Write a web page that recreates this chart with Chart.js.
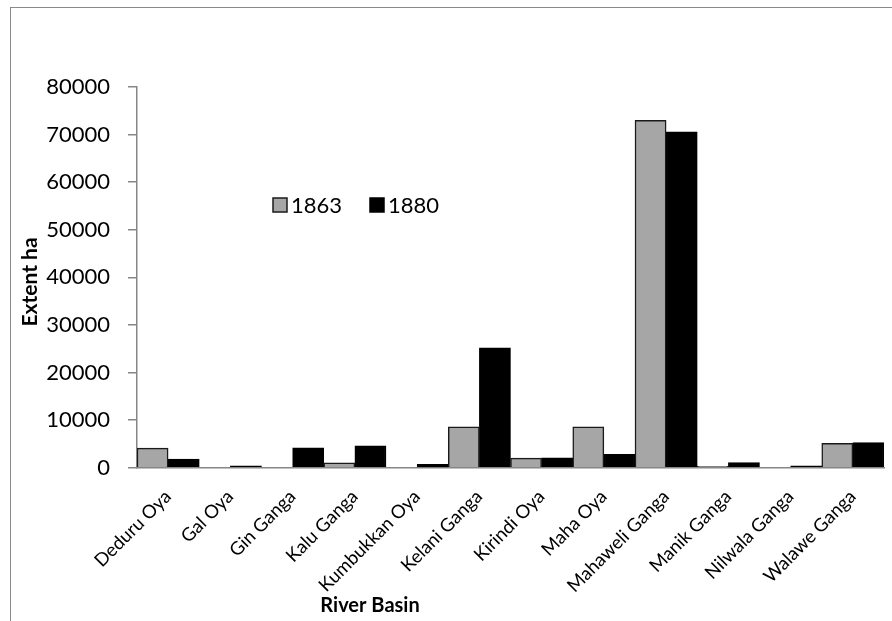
<!DOCTYPE html>
<html>
<head>
<meta charset="utf-8">
<script src="https://cdn.jsdelivr.net/npm/chart.js@4.4.1/dist/chart.umd.min.js"></script>
<style>
  html, body { margin: 0; padding: 0; background: #fff; }
  #wrap { position: relative; width: 892px; height: 621px; overflow: hidden; }
  #frame { position: absolute; left: 10px; top: 7px; width: 1000px; height: 1000px;
           border: 1px solid #8a8a8a; box-sizing: border-box; }
  canvas { position: absolute; left: 0; top: 0; }
</style>
</head>
<body>
<div id="wrap">
  <div id="frame"></div>
  <canvas id="c" width="892" height="621"></canvas>
</div>
<script>
// River basins and mapped extent (ha) for the two survey years
const categories = ['Deduru Oya', 'Gal Oya', 'Gin Ganga', 'Kalu Ganga', 'Kumbukkan Oya', 'Kelani Ganga',
                    'Kirindi Oya', 'Maha Oya', 'Mahaweli Ganga', 'Manik Ganga', 'Nilwala Ganga', 'Walawe Ganga'];
const seriesLabels = ['1863', '1880'];
const values1863 = [4100, 0, 0, 1000, 0, 8600, 2000, 8600, 73000, 300, 0, 5100];
const values1880 = [1800, 400, 4200, 4600, 700, 25200, 2100, 2800, 70600, 1100, 400, 5300];
const yTicks = [0, 10000, 20000, 30000, 40000, 50000, 60000, 70000, 80000];
const yTitle = 'Extent ha';
const xTitle = 'River Basin';

const FONT = 'Lato, "Open Sans", sans-serif';
const axisGray = '#868686';

// Axis titles and the in-plot legend
const decorations = {
  id: 'decorations',
  afterDraw(chart) {
    const ctx = chart.ctx;
    ctx.save();
    ctx.fillStyle = '#000';
    ctx.font = 'bold 20px ' + FONT;
    ctx.textAlign = 'center';
    ctx.textBaseline = 'middle';
    ctx.fillText(xTitle, 370, 606);
    ctx.font = 'bold 21px ' + FONT;
    ctx.translate(30, 282);
    ctx.rotate(-Math.PI / 2);
    ctx.fillText(yTitle, 0, 0);
    ctx.restore();

    ctx.save();
    const items = [{ x: 273, ds: chart.data.datasets[0] }, { x: 370, ds: chart.data.datasets[1] }];
    ctx.font = '22px ' + FONT;
    ctx.textBaseline = 'middle';
    ctx.textAlign = 'left';
    items.forEach(it => {
      ctx.fillStyle = it.ds.backgroundColor;
      ctx.fillRect(it.x, 198, 14, 14);
      ctx.lineWidth = 1.5;
      ctx.strokeStyle = it.ds.borderColor;
      ctx.strokeRect(it.x, 198, 14, 14);
      ctx.fillStyle = '#000';
      ctx.fillText(it.ds.label, it.x + 18, 206);
    });
    ctx.restore();
  }
};

new Chart(document.getElementById('c'), {
  type: 'bar',
  data: {
    labels: categories,
    datasets: [
      { label: seriesLabels[0], data: values1863, backgroundColor: '#a6a6a6', borderColor: '#1a1a1a',
        borderWidth: 1.5, categoryPercentage: 1, barPercentage: 1 },
      { label: seriesLabels[1], data: values1880, backgroundColor: '#000000', borderColor: '#000000',
        borderWidth: 1.5, categoryPercentage: 1, barPercentage: 1 }
    ]
  },
  options: {
    responsive: false,
    animation: false,
    devicePixelRatio: 1,
    layout: { padding: { left: 0, top: 87, right: 8, bottom: 0 } },
    plugins: { legend: { display: false }, tooltip: { enabled: false } },
    scales: {
      x: {
        offset: true,
        grid: { display: false, drawTicks: false },
        border: { color: axisGray, width: 1.5 },
        ticks: { color: '#000', font: { family: FONT, size: 18.5 }, minRotation: 45, maxRotation: 45,
                 padding: 18, autoSkip: false },
        afterFit(s) { s.height = 153.3; s.paddingLeft = 0; s.paddingRight = 0; }
      },
      y: {
        min: yTicks[0],
        max: yTicks[yTicks.length - 1],
        afterBuildTicks(s) { s.ticks = yTicks.map(v => ({ value: v })); },
        grid: { drawOnChartArea: false, drawTicks: true, tickLength: 9, color: axisGray, lineWidth: 1.5 },
        border: { color: axisGray, width: 1.5 },
        ticks: { color: '#000', font: { family: FONT, size: 22 }, padding: 18,
                 callback: v => String(v) },
        afterFit(s) { s.width = 137; s.paddingTop = 0; s.paddingBottom = 0; }
      }
    }
  },
  plugins: [decorations]
});
</script>
</body>
</html>
